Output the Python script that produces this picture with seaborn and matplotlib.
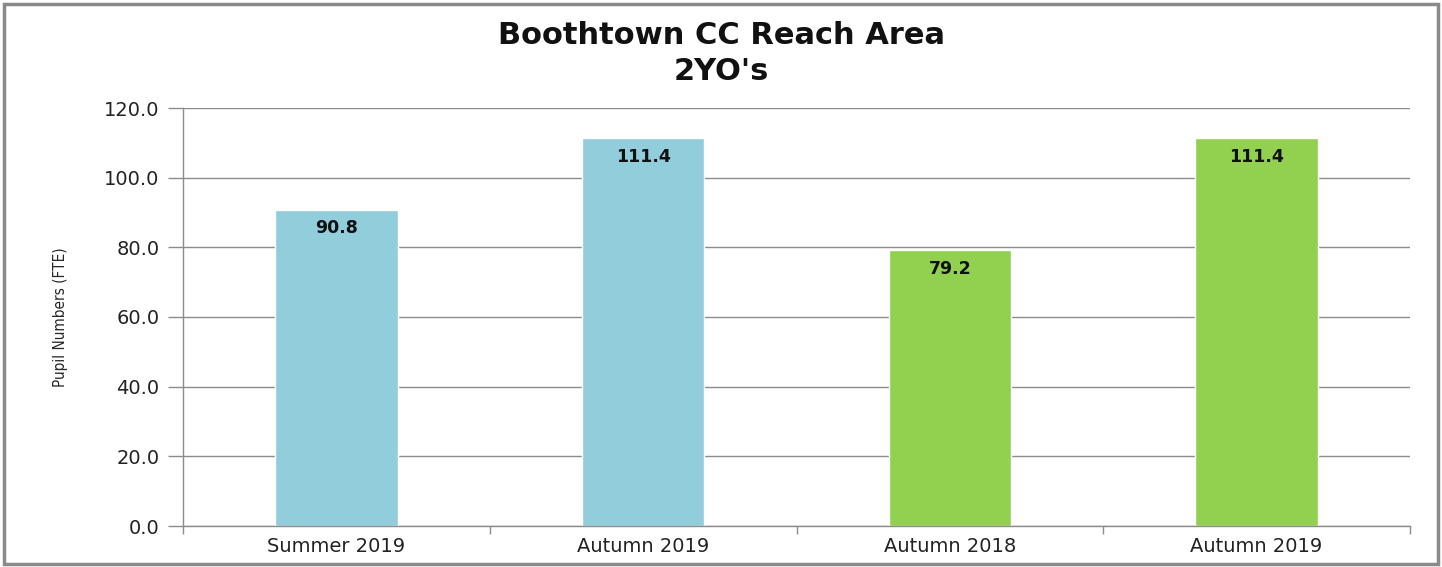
import numpy as np
import pandas as pd
import matplotlib
matplotlib.use("Agg")
import matplotlib.pyplot as plt
from matplotlib.patches import Rectangle
import seaborn as sns

# Chart data
periods = ["Summer 2019", "Autumn 2019", "Autumn 2018", "Autumn 2019"]
pupils = [90.8, 111.4, 79.2, 111.4]
bar_colors = ["#92CDDC", "#92CDDC", "#92D050", "#92D050"]
y_ticks = [0, 20, 40, 60, 80, 100, 120]

df = pd.DataFrame({"pos": range(len(periods)), "period": periods, "pupils": pupils})

sns.set_style("white")
plt.rcParams['font.family'] = ['DejaVu Sans']

fig = plt.figure(figsize=(14.42, 5.67), dpi=100)
ax = fig.add_axes([183 / 1442, 1 - 526 / 567, (1410 - 183) / 1442, (526 - 108) / 567])

sns.barplot(data=df, x="pos", y="pupils", hue="pos", palette=bar_colors,
            legend=False, width=0.4, saturation=1, ax=ax, native_scale=True)

grey = "#8c8c8c"
ax.set_ylim(0, 120)
ax.set_xlim(-0.5, len(periods) - 0.5)
ax.set_yticks(y_ticks)
ax.set_yticklabels([f"{v:.1f}" for v in y_ticks], fontsize=14, color="#222222")
ax.yaxis.grid(True, color=grey, linewidth=1)
ax.set_axisbelow(True)
ax.set_xticks(range(len(periods)))
ax.set_xticklabels(periods, fontsize=14, color="#222222")
ax.set_xticks(np.arange(-0.5, len(periods)), minor=True)
ax.tick_params(axis="x", which="major", bottom=True, length=0, pad=8)
ax.tick_params(axis="x", which="minor", bottom=True, length=6, color=grey, width=1)
ax.tick_params(axis="y", left=True, length=11, color=grey, width=1, pad=6)
ax.set_xlabel("")
ax.set_ylabel("Pupil Numbers (FTE)", fontsize=11, fontstretch="condensed", labelpad=26)

for side in ["top", "right"]:
    ax.spines[side].set_visible(False)
for side in ["left", "bottom"]:
    ax.spines[side].set_color(grey)
    ax.spines[side].set_linewidth(1)

for i, v in enumerate(pupils):
    ax.annotate(f"{v:.1f}", (i, v), xytext=(0, -7), textcoords="offset points",
                ha="center", va="top", fontsize=12.5, fontweight="bold", color="#111111")

fig.text(0.5, 1 - 36 / 567, "Boothtown CC Reach Area", ha="center", va="center",
         fontsize=22, fontweight="bold", color="#111111")
fig.text(0.5, 1 - 72 / 567, "2YO's", ha="center", va="center",
         fontsize=22, fontweight="bold", color="#111111")

# Outer chart border
fig.patches.append(Rectangle((4 / 1442, 3 / 567), 1434 / 1442, 560 / 567,
                             transform=fig.transFigure, fill=False,
                             edgecolor="#8a8a8a", linewidth=2.5))

fig.savefig("out.png", dpi=100)
